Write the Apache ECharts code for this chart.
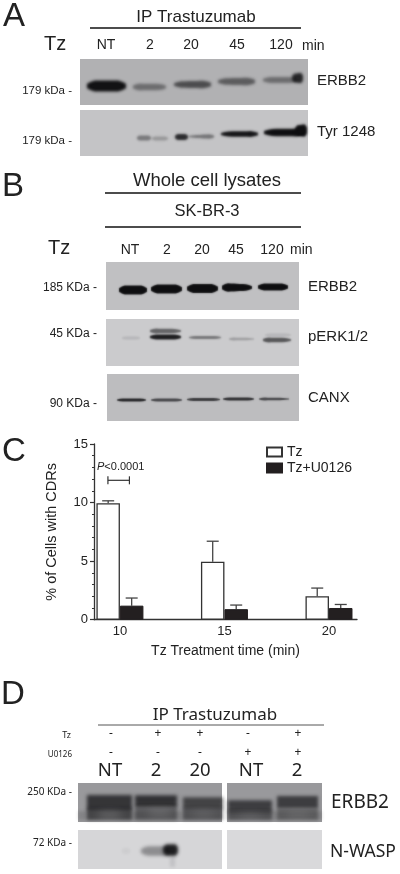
<!DOCTYPE html>
<html><head><meta charset="utf-8">
<style>html,body{margin:0;padding:0;background:#fff}#c{width:400px;height:874px}</style>
<script src="https://cdn.jsdelivr.net/npm/echarts@6/dist/echarts.min.js"></script>
</head><body><div id="c"></div>
<script>
// ---------- Panel C data ----------
const timePoints = [10, 15, 20];
const tzValues = [9.95, 4.95, 2.0];
const tzErrorTops = [10.15, 6.7, 2.7];
const u0126Values = [1.2, 0.9, 1.0];
const u0126ErrorTops = [1.85, 1.25, 1.3];
const yTicks = [0, 5, 10, 15];
const significanceLevel = [11.9];

// ---------- Blot band densities (one per drawn band; negative = paler than the film) ----------
const densityA1 = [0.98, 0.42, 0.62, 0.52, 0.42, 0.85];
const densityA2 = [0.42, 0.25, 0.85, 0.45, 0.98, 1, 1];
const densityB1 = [1, 1, 1, 1, 1];
const densityB2 = [0.1, 0.55, 0.92, 0.45, 0.24, 0.62, 0.1];
const densityB3 = [0.88, 0.68, 0.75, 0.82, 0.68];
const densityD1 = [0.15, 0.72, 0.74, 0.62, 0.52, 0.42, 0.42, -0.3, -0.3, -0.22];
const densityD1b = [0.15, 0.66, 0.66, 0.42, 0.34, -0.22, -0.2];
const densityD2 = [0.36, 0.92, 0.05, 0.1];

// ---------- Labels ----------
const lanesA = ['NT', '2', '20', '45', '120'];
const lanesB = ['NT', '2', '20', '45', '120'];
const lanesD = ['NT', '2', '20', 'NT', '2'];
const tzSigns = ['-', '+', '+', '-', '+'];
const u0126Signs = ['-', '-', '-', '+', '+'];

// ---------- Layout of the gel images, kept apart from the values ----------
// rect: [left, top, right, bottom], bands: [x0, x1, yCentre, thickL, thickR]
const blots = [
  {rect:[80,59,308,105], bg:'#b1b1b3', blur:3, taper:true, density:densityA1, bands:[
    [87,126,86,11,11],[133,166,87,7,6],[174,211,84.5,6,8],[218,255,81.5,6,8],[263,297,80,6,6],[292,303,78,8,11]]},
  {rect:[80,110,308,156], bg:'#c4c4c6', blur:2.5, taper:true, density:densityA2, bands:[
    [137,151,138,5,5],[152,168,138.5,4,4],[175,188,137,6,6],[189,214,136.5,2,5],[221,258,134,5,6],[264,304,132.5,7,8],[295,307,130.5,10,13]]},
  {rect:[106,262,299,310], bg:'#c0c0c2', blur:1.5, taper:true, density:densityB1, bands:[
    [119,147,290,9,9],[151,182,289,9,9],[187,218,288.5,9,9],[222,252,287.5,9,6],[258,288,287,7,7]]},
  {rect:[106,319,299,366], bg:'#cbcbcd', blur:2, taper:true, density:densityB2, bands:[
    [122,140,338,3,3],[150,181,331,5,4],[150,181,337,5,5],[189,221,337.5,3,3],[229,254,339,3,2],[263,291,340,5,4],[265,291,335,3,3]]},
  {rect:[107,374,299,421], bg:'#bdbdbf', blur:1.5, taper:true, density:densityB3, bands:[
    [117,146,400,3,3],[151,182,400,3,3],[187,220,399.5,3,3],[223,254,399,3,3],[259,289,399,3,2]]},
  {rect:[78,783,222,822], bg:'#99999c', blur:3.5, taper:false, density:densityD1, bands:[
    [78,222,817,12,12],
    [87,132,802.5,15,15],[135,177,801,13,13],[183,223,803,13,13],
    [87,132,816,16,16],[135,177,815,16,16],[183,223,816,16,16],
    [99,120,815,4,4],[149,170,813,3,3],[194,213,814,3,3]]},
  {rect:[227,783,322,822], bg:'#99999c', blur:3.5, taper:false, density:densityD1b, bands:[
    [227,322,817,12,12],
    [228,272,806,13,13],[277,318,802,12,12],[228,272,818,14,14],[277,318,815,14,14],
    [240,260,816,3,3],[288,308,815,3,3]]},
  {rect:[78,830,222,869], bg:'#d6d6d8', blur:3.5, taper:true, density:densityD2, bands:[
    [141,170,851,9,10],[163,178,850,11,12],[122,130,851,5,5],[170,175,862,12,12]]},
  {rect:[227,830,322,869], bg:'#d9d9db', blur:3, taper:true, density:[], bands:[]}
];

const sans = '"Liberation Sans"', noto = '"Noto Sans"';
// text, x, y, size, font, align
const texts = [
  ['A',14,17,33,sans,'center'],['B',13,187,33,sans,'center'],['C',14,452,33,sans,'center'],['D',13,695,33,sans,'center'],
  ['IP Trastuzumab',196,17,17,sans,'center'],['Tz',44,44,20,sans,'left'],['min',302,46,14,sans,'left'],
  ['179 kDa -',72,91,11.5,sans,'right'],['179 kDa -',72,141,11.5,sans,'right'],
  ['ERBB2',317,81,15,sans,'left'],['Tyr 1248',317,132,15,sans,'left'],
  ['Whole cell lysates',207,181,18.5,sans,'center'],['SK-BR-3',207,211,16.5,sans,'center'],
  ['Tz',48,248,20,sans,'left'],['min',290,250,14,sans,'left'],
  ['185 KDa -',97,288,12,sans,'right'],['45 KDa -',97,334,12,sans,'right'],['90 KDa -',97,404,12,sans,'right'],
  ['ERBB2',308,287,15,sans,'left'],['pERK1/2',308,337,15,sans,'left'],['CANX',308,398,15,sans,'left'],
  ['IP Trastuzumab',215,715,17,noto,'center'],['Tz',71,735,9,noto,'right'],['U0126',72,755,8,noto,'right'],
  ['250 KDa -',72,792,10,noto,'right'],['72 KDa -',72,843,10,noto,'right'],
  ['ERBB2',331,803,19,noto,'left'],['N-WASP',330,852,17.5,noto,'left']
];
const laneXA = [106,150,191,237,281], laneXB = [130,167,202,236,272], laneXD = [111,158,200,248,298], laneXD2 = [110,156,200,251,297];
lanesA.forEach((t,i)=>texts.push([t,laneXA[i],45.5,14,sans,'center']));
lanesB.forEach((t,i)=>texts.push([t,laneXB[i],250,14,sans,'center']));
lanesD.forEach((t,i)=>texts.push([t,laneXD2[i],771,18.5,noto,'center']));
tzSigns.forEach((t,i)=>texts.push([t,laneXD[i],734,12,noto,'center']));
u0126Signs.forEach((t,i)=>texts.push([t,laneXD[i],752.5,12,noto,'center']));

const rules = [[90,301,28,1.3,'#111'],[105,301,193,1.3,'#111'],[105,301,227,1.3,'#111'],[98,324,725,1,'#555']];

const chart = echarts.init(document.getElementById('c'));
const OFF = 1000; // shapes are drawn off-page so only their soft shadow lands on the gel

const grids = [], xAxes = [], yAxes = [], series = [];
blots.forEach((b, i) => {
  const [l,t,r,bt] = b.rect;
  grids.push({left:l, top:t, width:r-l, height:bt-t, show:true, backgroundColor:b.bg, borderWidth:0});
  xAxes.push({gridIndex:i, type:'value', min:l, max:r, show:false});
  yAxes.push({gridIndex:i, type:'value', min:t, max:bt, inverse:true, show:false});
  series.push({
    type:'custom', xAxisIndex:i, yAxisIndex:i, silent:true, clip:false, animation:false,
    data:b.bands.map((bd,k)=>bd.concat(b.density[k])),
    renderItem(params, api){
      const x0=api.value(0), x1=api.value(1), y=api.value(2), hL=api.value(3), hR=api.value(4), d=api.value(5);
      const top=[], bot=[], n=10;
      for(let k=0;k<=n;k++){
        const f=k/n, x=x0+(x1-x0)*f;
        const taper=b.taper?Math.min(1,Math.pow(Math.sin(Math.PI*Math.max(Math.min(f,0.98),0.02)),0.4)*1.25):1;
        const h=(hL+(hR-hL)*f)*taper/2;
        const pt=api.coord([x,y-h]), pb=api.coord([x,Math.min(y+h,bt-2)]);
        top.push([pt[0]-OFF,pt[1]]); bot.unshift([pb[0]-OFF,pb[1]]);
      }
      const c=d<0?'rgba(255,255,255,'+(-d)+')':'rgba(14,14,16,'+d+')';
      return {type:'polygon', shape:{points:top.concat(bot)},
        style:{fill:'#000', shadowBlur:d<0?b.blur*2.5:b.blur, shadowColor:c, shadowOffsetX:OFF}};
    }
  });
});

// Panel C
const gi = blots.length;
grids.push({left:94, top:444, width:263, height:175.7, show:false});
xAxes.push({gridIndex:gi, type:'value', min:8.76, max:21.34,
  name:'Tz Treatment time (min)', nameLocation:'middle', nameGap:24.5,
  nameTextStyle:{fontFamily:sans, fontSize:14, color:'#222'},
  axisLine:{show:true, onZero:false, lineStyle:{color:'#333', width:1.3}},
  axisTick:{show:true, length:0, customValues:timePoints},
  axisLabel:{customValues:timePoints, fontFamily:sans, fontSize:13, color:'#222', margin:5},
  splitLine:{show:false}});
yAxes.push({gridIndex:gi, type:'value', min:0, max:15, interval:5,
  name:'% of Cells with CDRs', nameLocation:'middle', nameGap:35, nameRotate:90,
  nameTextStyle:{fontFamily:sans, fontSize:14.5, color:'#222'},
  axisLine:{show:true, lineStyle:{color:'#333', width:1.3}},
  axisTick:{show:true, length:4, lineStyle:{color:'#333', width:1.2}},
  minorTick:{show:true, splitNumber:5, length:2, lineStyle:{color:'#333', width:1}},
  axisLabel:{fontFamily:sans, fontSize:13, color:'#222', margin:6, customValues:yTicks},
  splitLine:{show:false}});

const barW = 23.5;
series.push({name:'Tz', type:'bar', xAxisIndex:gi, yAxisIndex:gi, barWidth:barW, barGap:0, animation:false,
  data:timePoints.map((t,i)=>[t,tzValues[i]]), itemStyle:{color:'#fff', borderColor:'#333', borderWidth:1.3}});
series.push({name:'Tz+U0126', type:'bar', xAxisIndex:gi, yAxisIndex:gi, barWidth:barW, barGap:0, animation:false,
  data:timePoints.map((t,i)=>[t,u0126Values[i]]), itemStyle:{color:'#231f20', borderColor:'#231f20', borderWidth:1}});

function errSeries(vals, tops, offset){
  return {type:'custom', xAxisIndex:gi, yAxisIndex:gi, silent:true, animation:false, z:1,
    data:timePoints.map((t,i)=>[t,vals[i],tops[i]]),
    renderItem(p, api){
      const a=api.coord([api.value(0),api.value(1)]), b=api.coord([api.value(0),api.value(2)]);
      const x=a[0]+offset, s={stroke:'#444', lineWidth:1.3};
      return {type:'group', children:[
        {type:'line', shape:{x1:x,y1:a[1],x2:x,y2:b[1]}, style:s},
        {type:'line', shape:{x1:x-6,y1:b[1],x2:x+6,y2:b[1]}, style:s}]};
    }};
}
series.push(errSeries(tzValues, tzErrorTops, -barW/2));
series.push(errSeries(u0126Values, u0126ErrorTops, barW/2));
// significance bracket
series.push({type:'custom', xAxisIndex:gi, yAxisIndex:gi, silent:true, animation:false,
  data:[[timePoints[0], significanceLevel[0]]],
  renderItem(p, api){
    const a=api.coord([api.value(0),api.value(1)]);
    const x0=a[0]-12, x1=a[0]+9.5, y=a[1], s={stroke:'#333', lineWidth:1.2};
    return {type:'group', children:[
      {type:'line', shape:{x1:x0,y1:y,x2:x1,y2:y}, style:s},
      {type:'line', shape:{x1:x0,y1:y-4,x2:x0,y2:y+4}, style:s},
      {type:'line', shape:{x1:x1,y1:y-4,x2:x1,y2:y+4}, style:s}]};
  }});

const graphic = [];
texts.forEach(t=>graphic.push({type:'text', silent:true, x:t[1], y:t[2],
  style:{text:t[0], font:t[3]+'px '+t[4], fill:'#222', textAlign:t[5], textVerticalAlign:'middle'}}));
rules.forEach(r=>graphic.push({type:'line', silent:true, shape:{x1:r[0],y1:r[2],x2:r[1],y2:r[2]},
  style:{stroke:r[4], lineWidth:r[3]}}));
graphic.push({type:'text', silent:true, x:97, y:467, style:{
  rich:{i:{fontFamily:sans,fontStyle:'italic',fontSize:11,fill:'#222'}, n:{fontFamily:sans,fontSize:11,fill:'#222'}},
  text:'{i|P}{n|<0.0001}', textVerticalAlign:'middle'}});

chart.setOption({
  animation:false, backgroundColor:'#fff', grid:grids, xAxis:xAxes, yAxis:yAxes, series, graphic,
  legend:{data:['Tz','Tz+U0126'], orient:'vertical', left:261, top:440, itemWidth:15, itemHeight:9, itemGap:2, icon:'rect',
    textStyle:{fontFamily:sans, fontSize:14, color:'#222'}, selectedMode:false}
});
</script></body></html>
